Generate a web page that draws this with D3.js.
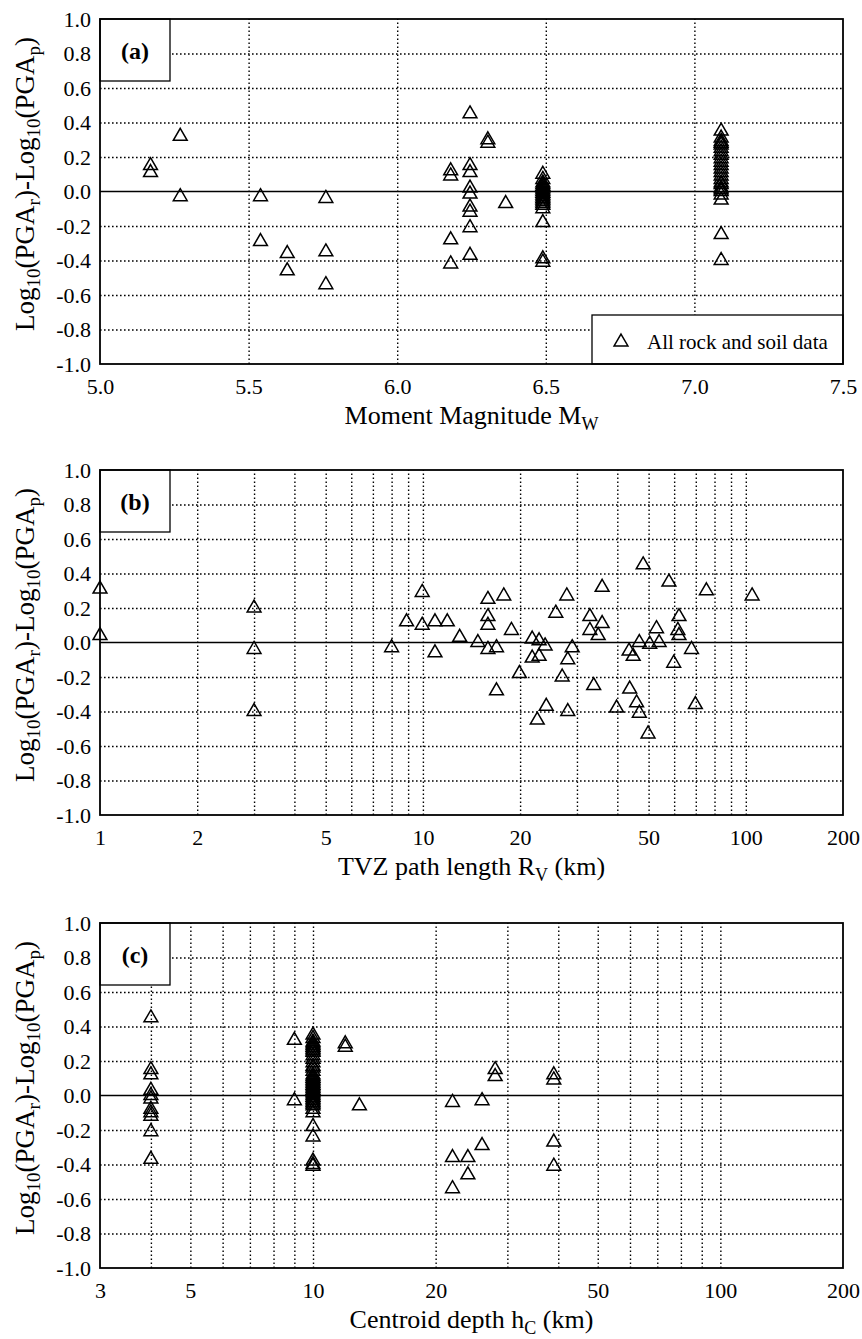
<!DOCTYPE html>
<html>
<head>
<meta charset="utf-8">
<script src="https://d3js.org/d3.v7.min.js"></script>
<style>
body { margin: 0; background: #fff; }
</style>
</head>
<body>
<div id="main"></div>
<script>
var yTicks = [-1.0, -0.8, -0.6, -0.4, -0.2, 0.0, 0.2, 0.4, 0.6, 0.8, 1.0];
var yGrid = [-0.8, -0.6, -0.4, -0.2, 0.2, 0.4, 0.6, 0.8];

// (a) residual vs moment magnitude
var ticksA = [5.0, 5.5, 6.0, 6.5, 7.0, 7.5];
var gridA = [5.5, 6.0, 6.5, 7.0];
var pointsA = [
  [5.17, 0.15], [5.17, 0.11], [5.27, 0.32], [5.27, -0.03],
  [5.54, -0.03], [5.54, -0.29], [5.63, -0.36], [5.63, -0.46],
  [5.76, -0.04], [5.76, -0.35], [5.76, -0.54],
  [6.18, 0.12], [6.18, 0.09], [6.18, -0.28], [6.18, -0.42],
  [6.245, 0.45], [6.245, 0.15], [6.245, 0.11], [6.245, 0.02], [6.245, -0.015],
  [6.245, -0.09], [6.245, -0.12], [6.245, -0.21], [6.245, -0.37],
  [6.305, 0.30], [6.305, 0.28], [6.365, -0.07],
  [6.49, 0.10], [6.49, 0.07], [6.49, 0.05], [6.49, 0.04], [6.49, 0.03], [6.49, 0.02],
  [6.49, 0.01], [6.49, 0.0], [6.49, -0.01], [6.49, -0.02], [6.49, -0.03], [6.49, -0.04],
  [6.49, -0.05], [6.49, -0.06], [6.49, -0.07], [6.49, -0.08], [6.49, -0.10], [6.49, -0.18],
  [6.49, -0.39], [6.49, -0.41],
  [7.09, 0.35], [7.09, 0.31], [7.09, 0.29], [7.09, 0.28], [7.09, 0.27], [7.09, 0.25],
  [7.09, 0.23], [7.09, 0.21], [7.09, 0.19], [7.09, 0.17], [7.09, 0.15], [7.09, 0.13],
  [7.09, 0.11], [7.09, 0.09], [7.09, 0.07], [7.09, 0.05], [7.09, 0.04], [7.09, 0.02],
  [7.09, 0.01], [7.09, 0.0], [7.09, -0.02], [7.09, -0.05], [7.09, -0.25], [7.09, -0.40]
];

// (b) residual vs TVZ path length
var ticksB = [1, 2, 5, 10, 20, 50, 100, 200];
var gridB = [2, 3, 4, 5, 6, 7, 8, 9, 10, 20, 30, 40, 50, 60, 70, 80, 90, 100];
var pointsB = [
  [1.0, 0.31], [1.0, 0.04], [3.0, 0.20], [3.0, -0.04], [3.0, -0.40],
  [8.0, -0.03], [8.9, 0.12], [9.95, 0.29], [9.95, 0.10], [10.9, 0.12], [10.9, -0.06],
  [11.9, 0.12], [13.0, 0.03], [14.8, 0.0], [15.9, 0.25], [15.9, 0.15], [15.9, 0.10],
  [15.9, -0.04], [16.9, -0.03], [16.9, -0.28], [17.8, 0.27], [18.8, 0.07], [19.9, -0.18],
  [21.8, 0.02], [21.8, -0.09], [22.9, 0.01], [22.9, -0.08], [22.6, -0.45], [23.9, -0.02],
  [24.1, -0.37], [25.8, 0.17], [27.0, -0.20], [27.9, 0.27], [28.1, -0.10], [28.1, -0.40],
  [29.0, -0.03], [32.9, 0.15], [32.9, 0.07], [33.8, -0.25], [34.9, 0.04], [35.9, 0.32],
  [35.9, 0.11], [39.8, -0.38], [43.5, -0.05], [43.7, -0.27], [44.8, -0.08], [45.9, -0.35],
  [46.8, 0.0], [46.8, -0.41], [48.1, 0.45], [49.8, -0.53], [50.4, -0.01], [52.9, 0.08],
  [53.9, 0.0], [57.8, 0.35], [59.8, -0.12], [62.1, 0.15], [61.6, 0.07], [62.1, 0.04],
  [67.9, -0.04], [69.8, -0.36], [75.5, 0.30], [104.6, 0.27]
];

// (c) residual vs centroid depth
var ticksC = [3, 5, 10, 20, 50, 100, 200];
var gridC = [4, 5, 6, 7, 8, 9, 10, 20, 30, 40, 50, 60, 70, 80, 90, 100];
var pointsC = [
  [4.0, 0.45], [4.0, 0.15], [4.0, 0.12], [4.0, 0.03], [4.0, 0.0], [4.0, -0.02],
  [4.0, -0.08], [4.0, -0.10], [4.0, -0.12], [4.0, -0.21], [4.0, -0.37],
  [9.0, 0.32], [9.0, -0.03],
  [10, 0.35], [10, 0.33], [10, 0.31], [10, 0.30], [10, 0.29], [10, 0.28], [10, 0.27],
  [10, 0.26], [10, 0.25], [10, 0.23], [10, 0.21], [10, 0.19], [10, 0.17], [10, 0.16],
  [10, 0.14], [10, 0.12], [10, 0.11], [10, 0.10], [10, 0.09], [10, 0.08], [10, 0.07],
  [10, 0.06], [10, 0.05], [10, 0.04], [10, 0.03], [10, 0.02], [10, 0.01], [10, 0.0],
  [10, -0.01], [10, -0.02], [10, -0.03], [10, -0.04], [10, -0.05], [10, -0.06],
  [10, -0.08], [10, -0.10], [10, -0.18], [10, -0.24], [10, -0.38], [10, -0.40], [10, -0.41],
  [12.0, 0.30], [12.0, 0.28], [13.0, -0.06],
  [22, -0.04], [22, -0.36], [22, -0.54], [24, -0.36], [24, -0.46],
  [26, -0.03], [26, -0.29], [28, 0.15], [28, 0.11],
  [39, 0.12], [39, 0.09], [39, -0.27], [39, -0.41]
];

var serif = "'Liberation Serif', 'Times New Roman', Times, serif";
var plotW = 743, plotH = 345;
var tops = [19, 470, 923];

var oneDec = function(d) { return d.toFixed(1); };
var whole = function(d) { return String(d); };

var panels = [
  { label: '(a)', x: d3.scaleLinear().domain([5, 7.5]), ticks: ticksA, grid: gridA,
    points: pointsA, fmt: oneDec, legend: true,
    title: [['Moment Magnitude M', false], ['W', true]] },
  { label: '(b)', x: d3.scaleLog().domain([1, 200]), ticks: ticksB, grid: gridB,
    points: pointsB, fmt: whole,
    title: [['TVZ path length R', false], ['V', true], [' (km)', false]] },
  { label: '(c)', x: d3.scaleLog().domain([3, 200]), ticks: ticksC, grid: gridC,
    points: pointsC, fmt: whole,
    title: [['Centroid depth h', false], ['C', true], [' (km)', false]] }
];

var yTitle = [['Log', false], ['10', true], ['(PGA', false], ['r', true], [')-Log', false],
  ['10', true], ['(PGA', false], ['p', true], [')', false]];

function richText(sel, parts, size) {
  var shift = Math.round(size * 0.22);
  var prevSub = false;
  parts.forEach(function(part) {
    var t = sel.append('tspan').text(part[0]);
    if (part[1]) {
      t.attr('font-size', Math.round(size * 0.7));
      if (!prevSub) t.attr('dy', shift);
    } else if (prevSub) {
      t.attr('dy', -shift);
    }
    prevSub = part[1];
  });
}

function dotted(s) {
  s.select('.domain').remove();
  s.selectAll('line')
    .attr('stroke', '#000')
    .attr('stroke-width', 1.4)
    .attr('stroke-dasharray', '1.6,2.4');
}

function labels(s, size) {
  s.attr('font-family', serif).attr('font-size', size);
  s.select('.domain').remove();
  s.selectAll('text').attr('fill', '#000');
}

var svg = d3.select('#main')
  .append('svg')
  .attr('width', 862)
  .attr('height', 1339)
  .style('font-family', serif);

var y = d3.scaleLinear().domain([-1, 1]).range([plotH, 0]);
var tri = d3.symbol(d3.symbolTriangle, 83);

panels.forEach(function(p, i) {
  var x = p.x.range([0, plotW]);
  var g = svg.append('g').attr('transform', 'translate(100,' + tops[i] + ')');

  g.append('g')
    .attr('transform', 'translate(0,' + plotH + ')')
    .call(d3.axisBottom(x).tickValues(p.grid).tickSize(-plotH).tickFormat(''))
    .call(dotted);

  g.append('g')
    .call(d3.axisLeft(y).tickValues(yGrid).tickSize(-plotW).tickFormat(''))
    .call(dotted);

  g.append('line')
    .attr('x1', 0).attr('x2', plotW)
    .attr('y1', y(0)).attr('y2', y(0))
    .attr('stroke', '#000').attr('stroke-width', 1.3);

  g.selectAll('path.pt')
    .data(p.points)
    .enter()
    .append('path')
    .attr('class', 'pt')
    .attr('transform', function(d) {
      return 'translate(' + x(d[0]) + ',' + y(d[1]) + ')';
    })
    .attr('d', tri)
    .attr('fill', 'none')
    .attr('stroke', '#000')
    .attr('stroke-width', 1.5);

  // panel label box
  g.append('rect')
    .attr('width', 70).attr('height', 62)
    .attr('fill', '#fff').attr('stroke', '#000').attr('stroke-width', 1.3);
  g.append('text')
    .attr('x', 35).attr('y', 40)
    .attr('text-anchor', 'middle')
    .attr('font-size', 24).attr('font-weight', 'bold')
    .text(p.label);

  if (p.legend) {
    g.append('rect')
      .attr('x', 492).attr('y', 296).attr('width', 251).attr('height', 49)
      .attr('fill', '#fff').attr('stroke', '#000').attr('stroke-width', 1.3);
    g.append('path')
      .attr('transform', 'translate(521,323)')
      .attr('d', tri)
      .attr('fill', 'none').attr('stroke', '#000').attr('stroke-width', 1.5);
    g.append('text')
      .attr('x', 547).attr('y', 330)
      .attr('font-size', 21)
      .text('All rock and soil data');
  }

  g.append('rect')
    .attr('width', plotW).attr('height', plotH)
    .attr('fill', 'none').attr('stroke', '#000').attr('stroke-width', 1.8);

  g.append('g')
    .attr('transform', 'translate(0,' + plotH + ')')
    .call(d3.axisBottom(x).tickValues(p.ticks).tickFormat(p.fmt).tickSize(0).tickPadding(14))
    .call(labels, 22);

  g.append('g')
    .call(d3.axisLeft(y).tickValues(yTicks).tickFormat(oneDec).tickSize(0).tickPadding(9))
    .call(labels, 22);

  var xt = g.append('text')
    .attr('x', plotW / 2).attr('y', plotH + 60)
    .attr('text-anchor', 'middle')
    .attr('font-size', 26);
  richText(xt, p.title, 26);

  var yt = g.append('text')
    .attr('transform', 'translate(-66,165) rotate(-90)')
    .attr('text-anchor', 'middle')
    .attr('font-size', 27);
  richText(yt, yTitle, 27);
});
</script>
</body>
</html>
